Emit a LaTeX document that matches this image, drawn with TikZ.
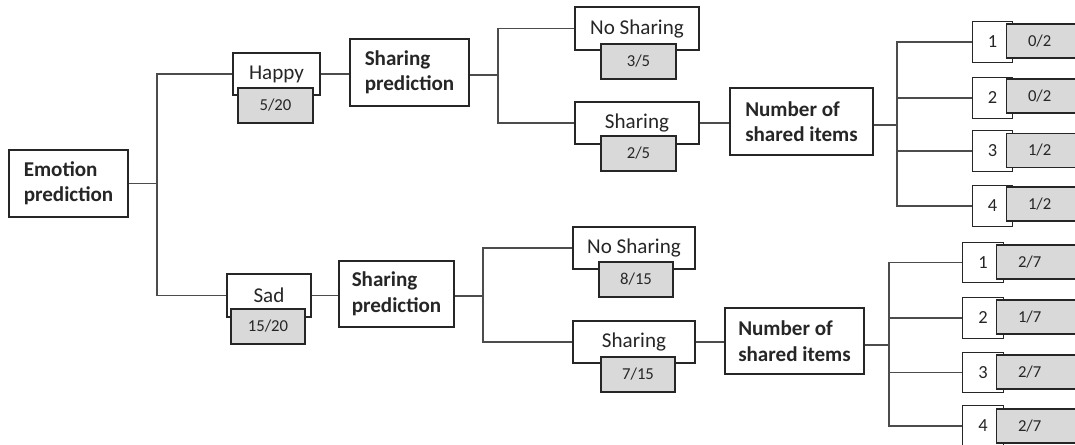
\documentclass[tikz,border=0pt]{standalone}
\usepackage{fontspec}
\setmainfont{Carlito}
\usepackage{tikz}
\usetikzlibrary{positioning}

\tikzset{
  box/.style={draw=black!85,line width=0.6pt,fill=white,inner sep=0pt,text=black!85},
  headbox/.style={box,font=\fontsize{12}{14.5}\selectfont\bfseries,align=left},
  optbox/.style={box,font=\fontsize{12}{14}\selectfont},
  probbox/.style={box,fill=gray!30,font=\fontsize{9.5}{11}\selectfont},
  itembox/.style={box,font=\fontsize{10.5}{12}\selectfont,minimum width=0.81cm,minimum height=0.81cm},
  tailbox/.style={probbox,anchor=west,align=left,inner xsep=0.43cm,text width=0.9cm,minimum height=0.68cm},
  link/.style={draw=black!70,line width=0.6pt},
}

\begin{document}
\begin{tikzpicture}[x=0.02cm,y=-0.02cm]
\useasboundingbox (0,0) rectangle (1075,445);
\clip (0,0) rectangle (1075,445);
%% Root
\node[headbox,minimum width=2.38cm,minimum height=1.34cm] (emo) at (68.5,183.5) {Emotion\\prediction};
\coordinate (j1) at (157,183.5);
%% Emotion branches
\node[optbox,minimum width=1.74cm,minimum height=0.84cm] (happy) at (276.5,74) {Happy};
\node[probbox,minimum width=1.5cm,minimum height=0.7cm] (happyp) at (275.5,105.5) {5/20};
\node[optbox,minimum width=1.68cm,minimum height=0.86cm] (sad) at (269,295.5) {Sad};
\node[probbox,minimum width=1.48cm,minimum height=0.7cm] (sadp) at (268,326.5) {15/20};
\draw[link] (emo.east) -- (j1);
\draw[link] (j1) |- (happy.west);
\draw[link] (j1) |- (sad.west);
%% Sharing prediction (happy)
\node[headbox,minimum width=2.38cm,minimum height=1.34cm] (sphappy) at (409.5,72.5) {Sharing\\prediction};
\draw[link] (happy.east) -- (happy.east -| sphappy.west);
\coordinate (j2) at (498,75);
\node[optbox,minimum width=2.48cm,minimum height=0.86cm] (nshappy) at (637,28.5) {No Sharing};
\node[probbox,minimum width=1.5cm,minimum height=0.7cm] (nshappyp) at (638.5,61.5) {3/5};
\node[optbox,minimum width=2.48cm,minimum height=0.84cm] (shhappy) at (637,123) {Sharing};
\node[probbox,minimum width=1.5cm,minimum height=0.7cm] (shhappyp) at (638.5,153.5) {2/5};
\draw[link] (sphappy.east |- j2) -- (j2);
\draw[link] (j2) |- (nshappy.west);
\draw[link] (j2) |- (shhappy.west);
%% Number of shared items (happy)
\node[headbox,minimum width=2.86cm,minimum height=1.34cm] (numhappy) at (801.5,121.5) {Number of\\shared items};
\draw[link] (shhappy.east) -- (shhappy.east -| numhappy.west);
\coordinate (j3) at (897,125);
\draw[link] (numhappy.east |- j3) -- (j3);
\foreach \k/\yw/\yg/\v in {1/42/41/{0/2},2/98/96/{0/2},3/151/150.5/{1/2},4/206/204/{1/2}} {
  \node[itembox] (ihappy\k) at (992.5,\yw) {\k};
  \node[tailbox] (ihappyp\k) at (1006,\yg) {\v};
  \draw[link] (j3) |- (ihappy\k.west);
}
%% Sharing prediction (sad)
\node[headbox,minimum width=2.3cm,minimum height=1.32cm] (spsad) at (396.5,294) {Sharing\\prediction};
\draw[link] (sad.east) -- (sad.east -| spsad.west);
\coordinate (j4) at (483,296);
\node[optbox,minimum width=2.44cm,minimum height=0.84cm] (nssad) at (634,248) {No Sharing};
\node[probbox,minimum width=1.48cm,minimum height=0.7cm] (nssadp) at (636,279.5) {8/15};
\node[optbox,minimum width=2.44cm,minimum height=0.84cm] (shsad) at (634,342) {Sharing};
\node[probbox,minimum width=1.48cm,minimum height=0.7cm] (shsadp) at (638,374.5) {7/15};
\draw[link] (spsad.east |- j4) -- (j4);
\draw[link] (j4) |- (nssad.west);
\draw[link] (j4) |- (shsad.west);
%% Number of shared items (sad)
\node[headbox,minimum width=2.78cm,minimum height=1.32cm] (numsad) at (794.5,341) {Number of\\shared items};
\draw[link] (shsad.east) -- (shsad.east -| numsad.west);
\coordinate (j5) at (889,345);
\draw[link] (numsad.east |- j5) -- (j5);
\foreach \k/\yw/\yg/\v in {1/262.5/262/{2/7},2/318/317/{1/7},3/372.5/372/{2/7},4/426/426/{2/7}} {
  \node[itembox] (isad\k) at (983,\yw) {\k};
  \node[tailbox] (isadp\k) at (996,\yg) {\v};
  \draw[link] (j5) |- (isad\k.west);
}
\end{tikzpicture}
\end{document}
